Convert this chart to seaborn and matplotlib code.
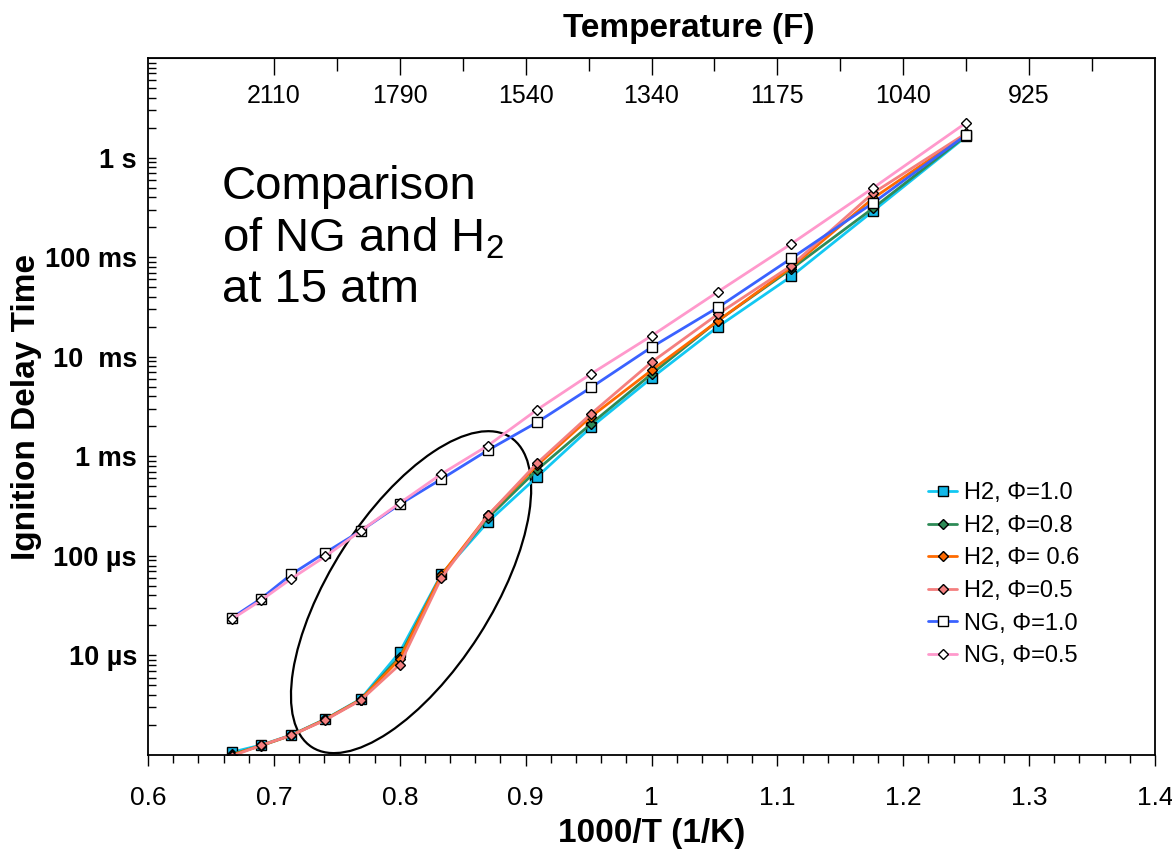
import matplotlib
matplotlib.use("Agg")
import matplotlib.pyplot as plt
import matplotlib.ticker as mticker
from matplotlib.patches import Ellipse
from matplotlib.transforms import ScaledTranslation
import pandas as pd
import seaborn as sns

# 1000/T (1/K) for T = 1500 ... 800 K
inv_temp = [0.667, 0.690, 0.714, 0.741, 0.769, 0.800, 0.833, 0.870,
            0.909, 0.952, 1.000, 1.053, 1.111, 1.176, 1.250]

# ignition delay times in seconds
h2_phi10 = [1.07e-6, 1.26e-6, 1.59e-6, 2.30e-6, 3.65e-6, 1.08e-5, 6.5e-5, 2.19e-4,
            6.2e-4, 1.96e-3, 6.1e-3, 2.01e-2, 6.4e-2, 0.29, 1.63]
h2_phi08 = [1.02e-6, 1.24e-6, 1.58e-6, 2.28e-6, 3.60e-6, 9.7e-6, 6.4e-5, 2.40e-4,
            7.3e-4, 2.12e-3, 6.7e-3, 2.31e-2, 7.6e-2, 0.31, 1.66]
h2_phi06 = [1.00e-6, 1.25e-6, 1.58e-6, 2.28e-6, 3.60e-6, 9.2e-6, 6.4e-5, 2.55e-4,
            8.1e-4, 2.50e-3, 7.3e-3, 2.30e-2, 7.9e-2, 0.39, 1.70]
h2_phi05 = [0.98e-6, 1.25e-6, 1.58e-6, 2.25e-6, 3.55e-6, 8.1e-6, 6.0e-5, 2.55e-4,
            8.5e-4, 2.67e-3, 8.8e-3, 2.69e-2, 8.2e-2, 0.44, 1.75]
ng_phi10 = [2.40e-5, 3.73e-5, 6.54e-5, 1.08e-4, 1.78e-4, 3.29e-4, 5.9e-4, 1.15e-3,
            2.19e-3, 4.91e-3, 1.245e-2, 3.14e-2, 9.7e-2, 0.35, 1.69]
ng_phi05 = [2.33e-5, 3.59e-5, 5.92e-5, 9.9e-5, 1.78e-4, 3.39e-4, 6.63e-4, 1.28e-3,
            2.93e-3, 6.73e-3, 1.62e-2, 4.51e-2, 0.136, 0.495, 2.24]

series_names = ["H2, \u03a6=1.0", "H2, \u03a6=0.8", "H2, \u03a6= 0.6",
                "H2, \u03a6=0.5", "NG, \u03a6=1.0", "NG, \u03a6=0.5"]
series_values = [h2_phi10, h2_phi08, h2_phi06, h2_phi05, ng_phi10, ng_phi05]
line_colors = ["#12C8F2", "#2E8B57", "#FF6A00", "#F47F7F", "#3A62FF", "#FF99CC"]
face_colors = ["#12B8E8", "#2E8B57", "#FF6A00", "#F47F7F", "white", "white"]
markers = ["s", "D", "D", "D", "s", "D"]
marker_sizes = [7.5, 5.5, 5.5, 5.5, 7.5, 5.5]

# y tick labels
y_ticks = [1e-5, 1e-4, 1e-3, 1e-2, 1e-1, 1e0]
y_labels = ["10 \u00b5s", "100 \u00b5s", "1 ms", "10  ms", "100 ms", "1 s"]

# top axis: temperature in F
top_ticks = [0.7, 0.8, 0.9, 1.0, 1.1, 1.2, 1.3]
top_labels = ["2110", "1790", "1540", "1340", "1175", "1040", "925"]
top_minor = [0.75, 0.85, 0.95, 1.05, 1.15, 1.25, 1.35]

sns.set_style("white")
plt.rcParams["font.family"] = ["Liberation Sans", "DejaVu Sans"]
plt.rcParams["mathtext.fontset"] = "custom"
plt.rcParams["mathtext.rm"] = "Liberation Sans"
plt.rcParams["mathtext.it"] = "Liberation Sans"
for key in ["text.color", "axes.labelcolor", "xtick.color", "ytick.color"]:
    plt.rcParams[key] = "black"

fig = plt.figure(figsize=(11.72, 8.56), dpi=100)
ax = fig.add_axes([148 / 1172, 101 / 856, 1007 / 1172, 697 / 856])

for name, vals, lc, fc, mk, ms in zip(series_names, series_values, line_colors,
                                      face_colors, markers, marker_sizes):
    df = pd.DataFrame({"x": inv_temp, "y": vals})
    sns.lineplot(data=df, x="x", y="y", ax=ax, color=lc, lw=2.0, marker=mk,
                 markersize=ms, markerfacecolor=fc, markeredgecolor="black",
                 markeredgewidth=1.0, label=name)

ax.set_yscale("log")
ax.set_xlim(0.6, 1.4)
ax.set_ylim(1e-6, 1e1)

ax.set_yticks(y_ticks)
ax.set_yticklabels(y_labels, fontsize=19.5, fontweight="bold")
ax.yaxis.set_minor_locator(mticker.LogLocator(base=10, subs=range(2, 10), numticks=20))
ax.yaxis.set_minor_formatter(mticker.NullFormatter())
ax.tick_params(axis="y", which="both", direction="in", left=True, right=False,
               length=6, width=1, pad=8)

ax.xaxis.set_major_locator(mticker.MultipleLocator(0.1))
ax.xaxis.set_minor_locator(mticker.MultipleLocator(0.02))
ax.xaxis.set_major_formatter(mticker.FuncFormatter(lambda v, p: f"{v:g}"))
ax.tick_params(axis="x", which="major", direction="out", bottom=True, length=8,
               width=1, pad=14, labelsize=19)
ax.tick_params(axis="x", which="minor", direction="out", bottom=True, length=6, width=1)

ax.set_xlabel("1000/T (1/K)", fontsize=24, fontweight="bold", labelpad=6)
ax.set_ylabel("Ignition Delay Time", fontsize=24, fontweight="bold", labelpad=2)

for s in ax.spines.values():
    s.set_color("black")
    s.set_linewidth(1.3)

top = ax.secondary_xaxis("top")
top.set_xticks(top_ticks)
top.set_xticklabels(top_labels)
top.set_xticks(top_minor, minor=True)
top.tick_params(axis="x", which="major", direction="in", length=12, width=1,
                labelsize=18, pad=-36)
top.tick_params(axis="x", which="minor", direction="in", length=9, width=1)
top.set_xlabel("Temperature (F)", fontsize=24, fontweight="bold", labelpad=12)
top.xaxis.label.set_x(0.537)

ax.text(0.0735, 0.847, "Comparison\nof NG and H$_2$\nat 15 atm", transform=ax.transAxes,
        fontsize=34, va="top", ha="left", linespacing=1.2)

# ellipse drawn in physical inches around a point in data space
ell = Ellipse((0, 0), width=3.68, height=1.61, angle=57.4, fill=False,
              edgecolor="black", lw=1.6,
              transform=fig.dpi_scale_trans + ScaledTranslation(0.809, 4.32e-5, ax.transData))
ax.add_patch(ell)

leg = ax.legend(loc="upper left", bbox_to_anchor=(0.765, 0.405), frameon=False,
                fontsize=17, handlelength=1.25, handletextpad=0.3, labelspacing=0.45,
                borderaxespad=0)

fig.savefig("out.png", dpi=100)
